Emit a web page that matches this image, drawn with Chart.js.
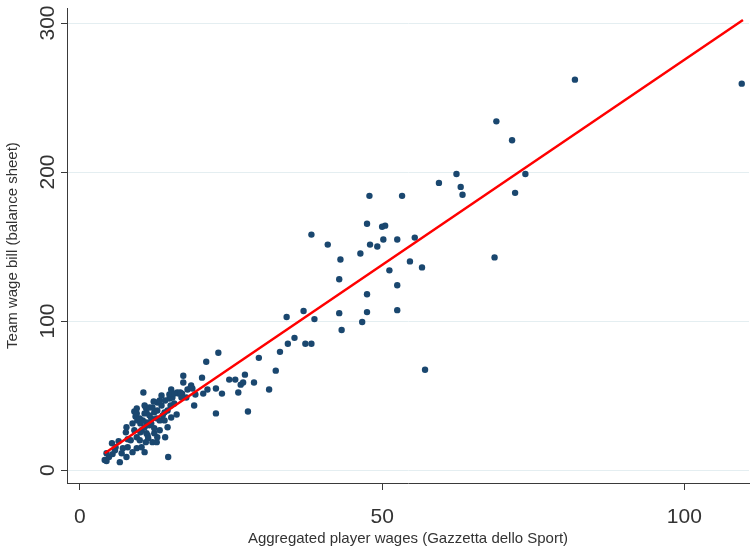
<!DOCTYPE html>
<html>
<head>
<meta charset="utf-8">
<script src="https://cdn.jsdelivr.net/npm/chart.js@4.4.1/dist/chart.umd.min.js"></script>
<style>
  html, body { margin: 0; padding: 0; background: #fff; }
  #wrap { width: 753px; height: 555px; }
</style>
</head>
<body>
<div id="wrap"><canvas id="wageChart"></canvas></div>
<script>
// aggregated player wages (x) vs team wage bill (y), one entry per club-season
const playerWages = [
  4.1, 4.4, 4.4, 4.8, 5.4, 5.3, 5.8, 5.9, 6.4, 6.6, 6.9, 7.1, 7.7, 7.7, 7.6, 7.9, 7.9, 8.4, 8.7, 8.7,
  9.0, 9.2, 9.4, 9.4, 9.5, 10.0, 10.0, 10.2, 10.2, 10.7, 10.7, 10.9, 11.0, 11.0, 11.2, 11.3, 11.8, 12.0, 12.3, 12.3,
  12.7, 12.7, 12.8, 12.0, 12.8, 13.5, 14.1, 14.5, 14.6, 15.0, 15.6, 16.0, 9.4, 11.0, 10.4, 11.8, 13.2, 14.8, 15.3, 16.1,
  16.9, 17.6, 18.3, 12.2, 14.8, 13.5, 14.1, 16.3, 16.8, 10.7, 9.4, 10.5, 10.9, 11.5, 15.1, 15.1, 16.6, 17.1, 17.1, 17.8,
  18.4, 18.6, 15.6, 11.5, 12.3, 13.2, 13.7, 12.8, 14.0, 11.5, 9.9, 10.7, 13.2, 14.0, 14.5, 15.1, 9.9, 9.0,
  18.9, 19.1, 20.2, 20.4, 20.9, 21.1, 22.5, 22.5, 22.9, 23.5, 24.7, 25.7, 26.6, 27.0, 26.2, 27.3, 27.8, 28.8, 29.6, 31.3,
  32.4, 33.1, 34.4, 34.2, 35.5,
  109.5, 81.9, 68.9, 71.5, 73.7, 72.0, 68.6, 62.3, 59.4, 63.0, 63.3, 47.9, 53.3, 47.5, 50.0, 50.5, 38.3, 41.0, 48.0, 49.2,
  50.2, 52.5, 55.4, 46.4, 43.1, 54.6, 56.6, 51.2, 42.9, 52.5, 47.5, 37.0, 42.9, 47.5, 52.5, 38.8, 46.7, 43.3, 37.3, 38.3,
  57.1
];
const teamWageBill = [
  6.7, 11.3, 6.0, 8.7, 10.7, 18.0, 13.3, 15.3, 19.3, 5.3, 11.3, 14.7, 8.7, 28.7, 25.3, 20.7, 15.3, 20.0, 12.0, 31.3,
  39.3, 36.0, 14.7, 22.0, 33.3, 25.3, 31.3, 15.3, 26.7, 12.0, 38.0, 18.7, 24.7, 32.0, 23.3, 21.3, 34.7, 18.7, 38.7, 24.7,
  18.7, 34.7, 22.0, 42.0, 45.3, 43.3, 22.0, 28.7, 8.7, 43.3, 44.7, 37.3, 38.0, 38.7, 33.3, 31.3, 46.7, 48.0, 48.7, 52.0,
  51.3, 48.7, 55.3, 46.0, 50.7, 50.0, 46.7, 51.3, 48.7, 43.3, 41.3, 52.0, 42.0, 42.0, 54.0, 51.3, 52.0, 63.3, 58.7, 54.0,
  56.7, 54.7, 51.3, 30.0, 28.0, 33.3, 36.7, 40.0, 38.7, 36.7, 34.7, 28.7, 26.7, 33.3, 40.0, 35.3, 20.0, 26.7,
  43.3, 50.7, 62.0, 51.3, 72.7, 54.0, 54.7, 38.0, 78.7, 51.3, 60.7, 60.7, 57.3, 58.7, 52.0, 64.0, 39.3, 58.7, 75.3, 54.0,
  66.7, 79.3, 84.7, 102.7, 88.7,
  259.3, 262.0, 234.0, 221.3, 198.7, 186.0, 142.7, 198.7, 192.7, 190.0, 184.7, 184.0, 184.0, 165.3, 163.3, 164.0, 158.0, 151.3, 151.3, 150.0,
  154.7, 154.7, 156.0, 145.3, 141.3, 140.0, 136.0, 134.0, 128.0, 124.0, 118.0, 106.7, 105.3, 106.0, 107.3, 101.3, 99.3, 94.0, 84.7, 84.7,
  67.3
];

// fitted line, start and end
const fitX = [4.1, 109.7];
const fitY = [11.3, 302];

const xTicks = [0, 50, 100];
const yTicks = [0, 100, 200, 300];

const axisColor = '#3a3a3a';
const textColor = '#333333';
const family = '"Liberation Sans", Arial, sans-serif';

const points = playerWages.map((x, i) => ({ x: x, y: teamWageBill[i] }));
const fitLine = fitX.map((x, i) => ({ x: x, y: fitY[i] }));

const ctx = document.getElementById('wageChart').getContext('2d');
new Chart(ctx, {
    type: 'scatter',
    data: {
        datasets: [{
            type: 'line',
            data: fitLine,
            borderColor: '#ff0000',
            borderWidth: 2.5,
            pointRadius: 0,
            fill: false,
            order: 0
        }, {
            data: points,
            backgroundColor: '#1a476f',
            borderColor: '#1a476f',
            borderWidth: 0,
            pointRadius: 3.2,
            order: 1
        }]
    },
    options: {
        responsive: true,
        maintainAspectRatio: false,
        animation: false,
        layout: { padding: { top: 5, right: 0, bottom: 0, left: 0 } },
        plugins: { legend: { display: false }, tooltip: { enabled: false } },
        scales: {
            x: {
                type: 'linear',
                min: -2.14,
                max: 110.7,
                afterBuildTicks: s => { s.ticks = xTicks.map(v => ({ value: v })); },
                afterFit: s => { s.height = 72; },
                border: { color: axisColor, width: 1 },
                grid: { drawOnChartArea: false, drawTicks: true, tickLength: 7, tickColor: axisColor },
                ticks: { font: { family: family, size: 21 }, color: textColor, padding: 15, maxRotation: 0 },
                title: {
                    display: true,
                    text: 'Aggregated player wages (Gazzetta dello Sport)',
                    font: { family: family, size: 15 },
                    color: textColor,
                    padding: { top: 0, bottom: 7 }
                }
            },
            y: {
                type: 'linear',
                min: -8.7,
                max: 310,
                afterBuildTicks: s => { s.ticks = yTicks.map(v => ({ value: v })); },
                afterFit: s => { s.width = 67; },
                border: { color: axisColor, width: 1 },
                grid: { color: '#e4eef1', lineWidth: 1, tickLength: 6, tickColor: axisColor },
                ticks: {
                    font: { family: family, size: 21 }, color: textColor,
                    minRotation: 90, maxRotation: 90, crossAlign: 'center', padding: -4.5
                },
                title: {
                    display: true,
                    text: 'Team wage bill (balance sheet)',
                    font: { family: family, size: 15 },
                    color: textColor,
                    padding: { top: 4, bottom: 0 }
                }
            }
        }
    }
});
</script>
</body>
</html>
